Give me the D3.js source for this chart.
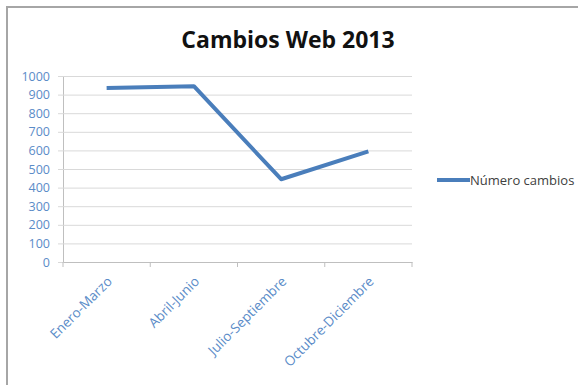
<!DOCTYPE html>
<html>
<head>
<meta charset="utf-8">
<script src="https://cdn.jsdelivr.net/npm/d3@7"></script>
<style>
  body { margin: 0; background: #fff; }
</style>
</head>
<body>
<div id="chart"></div>
<script>
const categories = ["Enero-Marzo", "Abril-Junio", "Julio-Septiembre", "Octubre-Diciembre"];
const values = [935, 945, 445, 595];
const yTicks = [0, 100, 200, 300, 400, 500, 600, 700, 800, 900, 1000];
const seriesName = "Número cambios";
const title = "Cambios Web 2013";

const width = 578;
const height = 385;
const plot = { left: 63, right: 412, top: 76, bottom: 262 };

const svg = d3.select("#chart")
  .append("svg")
  .attr("width", width)
  .attr("height", height)
  .style("font-family", "'Open Sans', sans-serif");

// frame
svg.append("rect")
  .attr("x", 7)
  .attr("y", 7)
  .attr("width", width)
  .attr("height", height)
  .attr("fill", "#fff")
  .attr("stroke", "#a6a6a6")
  .attr("stroke-width", 2);

const x = d3.scaleBand()
  .domain(categories)
  .range([plot.left, plot.right]);

const y = d3.scaleLinear()
  .domain([0, 1000])
  .range([plot.bottom, plot.top]);

// grid + y axis
const yAxis = svg.append("g")
  .attr("transform", `translate(${plot.left},0)`)
  .call(d3.axisLeft(y).tickValues(yTicks).tickFormat(d3.format("d"))
    .tickSize(-(plot.right - plot.left)).tickSizeOuter(0).tickPadding(13));
yAxis.select(".domain").attr("stroke", "#bfbfbf");
yAxis.selectAll(".tick line").attr("stroke", "#d9d9d9").attr("x1", -5);
yAxis.selectAll(".tick text")
  .attr("fill", "#5b8cc8")
  .attr("font-size", "12.5px")
  .style("font-family", "'Open Sans', sans-serif");

// x axis
const xAxis = svg.append("g")
  .attr("transform", `translate(0,${plot.bottom})`)
  .call(d3.axisBottom(x).tickSize(0).tickSizeOuter(0));
xAxis.select(".domain").attr("stroke", "#bfbfbf");
xAxis.selectAll(".tick text").remove();

// tick marks at band boundaries
const bounds = categories.map(c => x(c)).concat([x.range()[1]]);
xAxis.selectAll(".bound")
  .data(bounds)
  .join("line")
  .attr("x1", d => d)
  .attr("x2", d => d)
  .attr("y1", 0)
  .attr("y2", 5)
  .attr("stroke", "#bfbfbf");

// rotated category labels
svg.append("g")
  .selectAll("text")
  .data(categories)
  .join("text")
  .attr("transform", d => `translate(${x(d) + x.bandwidth() / 2 + 3},${plot.bottom + 17}) rotate(-45)`)
  .attr("text-anchor", "end")
  .attr("dy", "0.35em")
  .attr("fill", "#5b8cc8")
  .attr("font-size", "13.5px")
  .text(d => d);

// line
const line = d3.line()
  .x((d, i) => x(categories[i]) + x.bandwidth() / 2)
  .y(d => y(d));

svg.append("path")
  .datum(values)
  .attr("fill", "none")
  .attr("stroke", "#4a7ebb")
  .attr("stroke-width", 4)
  .attr("stroke-linejoin", "round")
  .attr("d", line);

// title
svg.append("text")
  .attr("x", 288)
  .attr("y", 48)
  .attr("text-anchor", "middle")
  .attr("font-size", "23px")
  .attr("font-weight", "bold")
  .attr("fill", "#111")
  .text(title);

// legend
const legend = svg.append("g").attr("transform", "translate(437,180)");
legend.append("line")
  .attr("x1", 0)
  .attr("x2", 33)
  .attr("stroke", "#4a7ebb")
  .attr("stroke-width", 4);
legend.append("text")
  .attr("x", 33)
  .attr("dy", "0.35em")
  .attr("font-size", "13px")
  .attr("fill", "#404040")
  .text(seriesName);
</script>
</body>
</html>
